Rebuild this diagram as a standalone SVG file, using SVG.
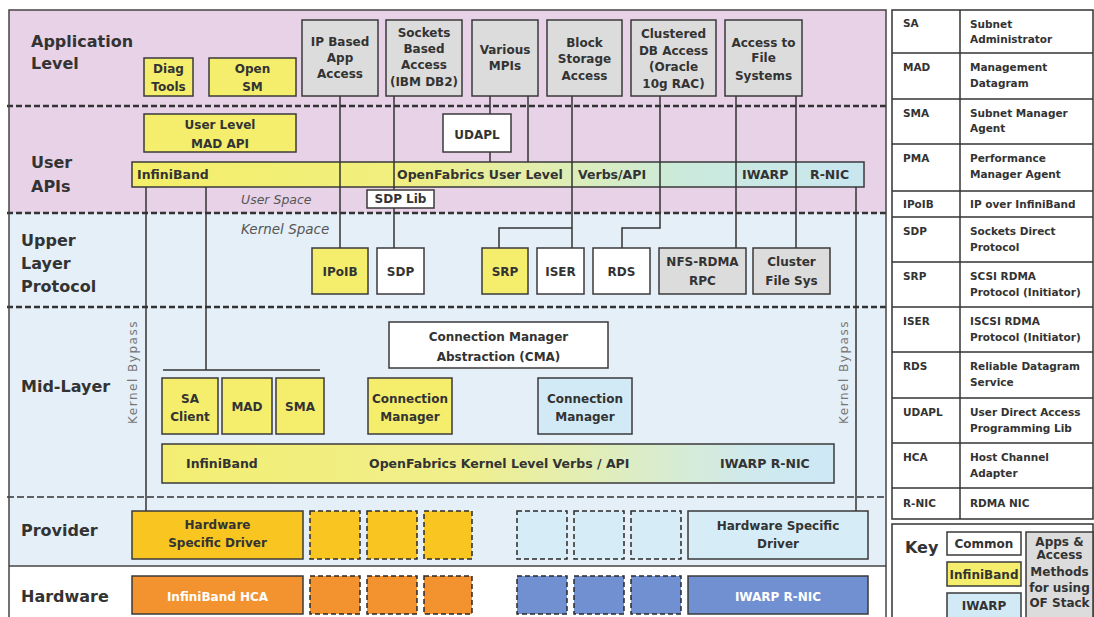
<svg xmlns="http://www.w3.org/2000/svg" width="1094" height="617" viewBox="0 0 1094 617">
<defs>
<linearGradient id="gUser" x1="0" y1="0" x2="1" y2="0">
<stop offset="0" stop-color="#f4ee68"/>
<stop offset="0.35" stop-color="#f1ef7e"/>
<stop offset="0.55" stop-color="#e2eeac"/>
<stop offset="0.75" stop-color="#cbeadb"/>
<stop offset="1" stop-color="#c9e6f0"/>
</linearGradient>
<linearGradient id="gKern" x1="0" y1="0" x2="1" y2="0">
<stop offset="0" stop-color="#f3ee72"/>
<stop offset="0.45" stop-color="#f0ef8c"/>
<stop offset="0.7" stop-color="#dcedc4"/>
<stop offset="0.88" stop-color="#cfe9ee"/>
<stop offset="1" stop-color="#cde8f4"/>
</linearGradient>
</defs>
<style>
.bx{stroke:#3a3a3a;stroke-width:1.5}
.dsh{stroke:#2a2a2a;stroke-width:1.5;stroke-dasharray:5 3}
.gray{fill:#dcdcdc}.yel{fill:#f4ee6c}.wht{fill:#fff}.blu{fill:#d2eaf6}
.gold{fill:#f9c520}.lblu{fill:#d6edf7}.org{fill:#f39330}.dblu{fill:#7090d1}
.t{font-family:"DejaVu Sans",sans-serif;font-weight:bold;fill:#333;text-anchor:middle;font-size:12px}
.tl{font-family:"DejaVu Sans",sans-serif;font-weight:bold;fill:#333;font-size:12.5px}
.lbl{font-family:"DejaVu Sans",sans-serif;font-weight:bold;font-size:16px;fill:#333}
.it{font-family:"DejaVu Sans",sans-serif;font-style:italic;fill:#555}
.kb{font-family:"DejaVu Sans",sans-serif;font-size:12px;letter-spacing:1.5px;fill:#777;text-anchor:middle}
.lg{font-family:"DejaVu Sans",sans-serif;font-weight:bold;font-size:10.5px;fill:#333}
.sep{stroke:#333;stroke-width:2.5;stroke-dasharray:6 3;fill:none}
.conn line,.conn path{stroke:#333;stroke-width:1.5;fill:none}
.wt{fill:#fff}
</style>

<!-- bands -->
<g id="bands">
<rect x="9" y="10" width="877" height="203" fill="#e8d2e8"/>
<rect x="9" y="213" width="877" height="353" fill="#e5eff8"/>
<rect x="9" y="566" width="877" height="60" fill="#ffffff"/>
<line class="sep" x1="7" y1="106" x2="886" y2="106"/>
<line class="sep" x1="7" y1="213" x2="886" y2="213"/>
<line class="sep" x1="7" y1="307" x2="886" y2="307"/>
<line x1="7" y1="497" x2="886" y2="497" stroke="#333" stroke-width="1.3" stroke-dasharray="7 3"/>
<line x1="9" y1="566" x2="886" y2="566" stroke="#444" stroke-width="1.5"/>
<rect x="9" y="10" width="877" height="620" fill="none" stroke="#444" stroke-width="1.5"/>
</g>

<g id="layer-labels">
<text class="lbl" x="31" y="47">Application</text>
<text class="lbl" x="31" y="69">Level</text>
<text class="lbl" x="31" y="168">User</text>
<text class="lbl" x="31" y="192">APIs</text>
<text class="lbl" x="21" y="246">Upper</text>
<text class="lbl" x="21" y="269">Layer</text>
<text class="lbl" x="21" y="292">Protocol</text>
<text class="lbl" x="21" y="392">Mid-Layer</text>
<text class="lbl" x="21" y="536">Provider</text>
<text class="lbl" x="21" y="602">Hardware</text>
<text class="it" x="241" y="204" font-size="12.5">User Space</text>
<text class="it" x="241" y="234" font-size="13.5">Kernel Space</text>
<text class="kb" transform="translate(137,372) rotate(-90)">Kernel Bypass</text>
<text class="kb" transform="translate(848,372) rotate(-90)">Kernel Bypass</text>
</g>

<!-- bars (under connectors) -->
<g id="user-verbs">
<rect class="bx" x="132" y="162" width="732" height="25" fill="url(#gUser)"/>
<text class="tl" x="137" y="179" font-size="13">InfiniBand</text>
<text class="tl" x="397" y="179" font-size="13">OpenFabrics User Level</text>
<text class="tl" x="578" y="179" font-size="13">Verbs/API</text>
<text class="tl" x="742" y="179" font-size="13">IWARP</text>
<text class="tl" x="810" y="179" font-size="13">R-NIC</text>
</g>

<g class="conn" id="connectors">
<line x1="340" y1="96" x2="340" y2="248"/>
<line x1="394" y1="96" x2="394" y2="190"/>
<line x1="394" y1="208" x2="394" y2="248"/>
<line x1="490" y1="96" x2="490" y2="114"/>
<line x1="490" y1="152" x2="490" y2="162"/>
<line x1="528" y1="96" x2="528" y2="162"/>
<line x1="572" y1="96" x2="572" y2="248"/>
<path d="M572 228 H499 V248"/>
<path d="M660 96 V228 H622 V248"/>
<line x1="736" y1="96" x2="736" y2="248"/>
<line x1="796" y1="96" x2="796" y2="248"/>
<line x1="146" y1="187" x2="146" y2="511"/>
<line x1="206" y1="187" x2="206" y2="370"/>
<line x1="163" y1="370" x2="320" y2="370"/>
<line x1="856" y1="187" x2="856" y2="511"/>
</g>

<g id="diag-tools"><rect class="bx yel" x="144" y="58" width="49" height="38"/><text class="t" x="168.5" y="73" font-size="13.5">Diag</text><text class="t" x="168.5" y="91" font-size="13.5">Tools</text></g>
<g id="open-sm"><rect class="bx yel" x="209" y="58" width="87" height="38"/><text class="t" x="252.5" y="73" font-size="13.5">Open</text><text class="t" x="252.5" y="91" font-size="13.5">SM</text></g>
<g id="ip-app"><rect class="bx gray" x="302" y="20" width="76" height="76"/><text class="t" x="340" y="46">IP Based</text><text class="t" x="340" y="62">App</text><text class="t" x="340" y="78">Access</text></g>
<g id="sockets"><rect class="bx gray" x="386" y="20" width="76" height="76"/><text class="t" x="424" y="37" font-size="11.5">Sockets</text><text class="t" x="424" y="53" font-size="11.5">Based</text><text class="t" x="424" y="69" font-size="11.5">Access</text><text class="t" x="424" y="86" font-size="11.5">(IBM DB2)</text></g>
<g id="mpis"><rect class="bx gray" x="472" y="20" width="66" height="76"/><text class="t" x="505" y="54">Various</text><text class="t" x="505" y="70">MPIs</text></g>
<g id="block"><rect class="bx gray" x="547" y="20" width="75" height="76"/><text class="t" x="584.5" y="47">Block</text><text class="t" x="584.5" y="63">Storage</text><text class="t" x="584.5" y="80">Access</text></g>
<g id="clustered-db"><rect class="bx gray" x="631" y="20" width="85" height="76"/><text class="t" x="673.5" y="38">Clustered</text><text class="t" x="673.5" y="55">DB Access</text><text class="t" x="673.5" y="71">(Oracle</text><text class="t" x="673.5" y="88">10g RAC)</text></g>
<g id="access-fs"><rect class="bx gray" x="725" y="20" width="77" height="76"/><text class="t" x="763.5" y="47">Access to</text><text class="t" x="763.5" y="62">File</text><text class="t" x="763.5" y="80">Systems</text></g>

<g id="mad-api"><rect class="bx yel" x="144" y="114" width="152" height="38"/><text class="t" x="220" y="129" font-size="13">User Level</text><text class="t" x="220" y="148" font-size="13">MAD API</text></g>
<g id="udapl"><rect class="bx wht" x="443" y="114" width="68" height="38"/><text class="t" x="477" y="139" font-size="13.5">UDAPL</text></g>
<g id="sdp-lib"><rect class="bx wht" x="367" y="190" width="67" height="18"/><text class="t" x="400.5" y="203" font-size="11.5">SDP Lib</text></g>

<g id="ipoib"><rect class="bx yel" x="312" y="248" width="56" height="46"/><text class="t" x="340" y="276" font-size="13.5">IPoIB</text></g>
<g id="sdp"><rect class="bx wht" x="377" y="248" width="47" height="46"/><text class="t" x="400.5" y="276" font-size="13.5">SDP</text></g>
<g id="srp"><rect class="bx yel" x="482" y="248" width="46" height="46"/><text class="t" x="505" y="276" font-size="13.5">SRP</text></g>
<g id="iser"><rect class="bx wht" x="537" y="248" width="47" height="46"/><text class="t" x="560.5" y="276" font-size="13.5">ISER</text></g>
<g id="rds"><rect class="bx wht" x="593" y="248" width="57" height="46"/><text class="t" x="621.5" y="276" font-size="13.5">RDS</text></g>
<g id="nfs-rdma"><rect class="bx gray" x="659" y="248" width="87" height="46"/><text class="t" x="702.5" y="266">NFS-RDMA</text><text class="t" x="702.5" y="285">RPC</text></g>
<g id="cluster-fs"><rect class="bx gray" x="753" y="248" width="77" height="46"/><text class="t" x="791.5" y="266">Cluster</text><text class="t" x="791.5" y="285">File Sys</text></g>

<g id="cma"><rect class="bx wht" x="389" y="322" width="219" height="46"/><text class="t" x="498.5" y="341" font-size="12.5">Connection Manager</text><text class="t" x="498.5" y="361" font-size="12.5">Abstraction (CMA)</text></g>
<g id="sa-client"><rect class="bx yel" x="162" y="378" width="56" height="56"/><text class="t" x="190" y="403" font-size="13">SA</text><text class="t" x="190" y="421" font-size="13">Client</text></g>
<g id="mad"><rect class="bx yel" x="222" y="378" width="50" height="56"/><text class="t" x="247" y="411" font-size="13">MAD</text></g>
<g id="sma"><rect class="bx yel" x="276" y="378" width="48" height="56"/><text class="t" x="300" y="411" font-size="13">SMA</text></g>
<g id="cm-ib"><rect class="bx yel" x="368" y="378" width="84" height="56"/><text class="t" x="410" y="403" font-size="12.5">Connection</text><text class="t" x="410" y="421" font-size="12.5">Manager</text></g>
<g id="cm-iwarp"><rect class="bx blu" x="538" y="378" width="94" height="56"/><text class="t" x="585" y="403" font-size="12.5">Connection</text><text class="t" x="585" y="421" font-size="12.5">Manager</text></g>
<g id="kernel-verbs"><rect class="bx" x="162" y="444" width="672" height="39" fill="url(#gKern)"/><text class="tl" x="186" y="468">InfiniBand</text><text class="tl" x="369" y="468">OpenFabrics Kernel Level Verbs / API</text><text class="tl" x="720" y="468">IWARP R-NIC</text></g>

<g id="hw-driver-ib"><rect class="bx gold" x="132" y="511" width="171" height="48"/><text class="t" x="217.5" y="529" font-size="12.5">Hardware</text><text class="t" x="217.5" y="547" font-size="12.5">Specific Driver</text></g>
<g id="prov-ib-extra"><rect class="dsh gold" x="310" y="511" width="50" height="48"/><rect class="dsh gold" x="367" y="511" width="50" height="48"/><rect class="dsh gold" x="424" y="511" width="48" height="48"/></g>
<g id="prov-iw-extra"><rect class="dsh lblu" x="517" y="511" width="50" height="48"/><rect class="dsh lblu" x="574" y="511" width="50" height="48"/><rect class="dsh lblu" x="631" y="511" width="50" height="48"/></g>
<g id="hw-driver-iw"><rect class="bx lblu" x="688" y="511" width="180" height="48"/><text class="t" x="778" y="530" font-size="13">Hardware Specific</text><text class="t" x="778" y="548" font-size="13">Driver</text></g>

<g id="ib-hca"><rect class="bx org" x="132" y="576" width="171" height="38"/><text class="t wt" x="217.5" y="601" font-size="13" style="fill:#fff">InfiniBand HCA</text></g>
<g id="hw-ib-extra"><rect class="dsh org" x="310" y="576" width="50" height="38"/><rect class="dsh org" x="367" y="576" width="50" height="38"/><rect class="dsh org" x="424" y="576" width="48" height="38"/></g>
<g id="hw-iw-extra"><rect class="dsh dblu" x="517" y="576" width="50" height="38"/><rect class="dsh dblu" x="574" y="576" width="50" height="38"/><rect class="dsh dblu" x="631" y="576" width="50" height="38"/></g>
<g id="iwarp-rnic"><rect class="bx dblu" x="688" y="576" width="180" height="38"/><text class="t" x="778" y="601" font-size="13.5" style="fill:#fff">IWARP R-NIC</text></g>

<!-- legend -->
<g id="legend">
<rect x="892" y="10" width="201" height="509" fill="#fff" stroke="#333" stroke-width="1.5"/>
<line x1="960" y1="10" x2="960" y2="519" stroke="#333" stroke-width="1.5"/>
<g stroke="#333" stroke-width="1.5">
<line x1="892" y1="53" x2="1093" y2="53"/><line x1="892" y1="99" x2="1093" y2="99"/>
<line x1="892" y1="144" x2="1093" y2="144"/><line x1="892" y1="191" x2="1093" y2="191"/>
<line x1="892" y1="217" x2="1093" y2="217"/><line x1="892" y1="262" x2="1093" y2="262"/>
<line x1="892" y1="307" x2="1093" y2="307"/><line x1="892" y1="352" x2="1093" y2="352"/>
<line x1="892" y1="398" x2="1093" y2="398"/><line x1="892" y1="443" x2="1093" y2="443"/>
<line x1="892" y1="488" x2="1093" y2="488"/>
</g>
<text class="lg" x="903" y="27">SA</text><text class="lg" x="970" y="28">Subnet</text><text class="lg" x="970" y="43">Administrator</text>
<text class="lg" x="903" y="71">MAD</text><text class="lg" x="970" y="71">Management</text><text class="lg" x="970" y="87">Datagram</text>
<text class="lg" x="903" y="117">SMA</text><text class="lg" x="970" y="117">Subnet Manager</text><text class="lg" x="970" y="132">Agent</text>
<text class="lg" x="903" y="162">PMA</text><text class="lg" x="970" y="162">Performance</text><text class="lg" x="970" y="178">Manager Agent</text>
<text class="lg" x="903" y="208">IPoIB</text><text class="lg" x="970" y="208">IP over InfiniBand</text>
<text class="lg" x="903" y="235">SDP</text><text class="lg" x="970" y="235">Sockets Direct</text><text class="lg" x="970" y="251">Protocol</text>
<text class="lg" x="903" y="280">SRP</text><text class="lg" x="970" y="280">SCSI RDMA</text><text class="lg" x="970" y="296">Protocol (Initiator)</text>
<text class="lg" x="903" y="325">ISER</text><text class="lg" x="970" y="325">ISCSI RDMA</text><text class="lg" x="970" y="341">Protocol (Initiator)</text>
<text class="lg" x="903" y="370">RDS</text><text class="lg" x="970" y="370">Reliable Datagram</text><text class="lg" x="970" y="386">Service</text>
<text class="lg" x="903" y="416">UDAPL</text><text class="lg" x="970" y="416">User Direct Access</text><text class="lg" x="970" y="432">Programming Lib</text>
<text class="lg" x="903" y="461">HCA</text><text class="lg" x="970" y="461">Host Channel</text><text class="lg" x="970" y="477">Adapter</text>
<text class="lg" x="903" y="507">R-NIC</text><text class="lg" x="970" y="507">RDMA NIC</text>
</g>

<g id="key">
<rect x="892" y="524" width="201" height="100" fill="#fff" stroke="#333" stroke-width="1.5"/>
<text class="lbl" x="905" y="553" font-size="13.5">Key</text>
<rect class="bx wht" x="947" y="532" width="74" height="23"/><text class="t" x="984" y="548" font-size="12.5">Common</text>
<rect class="bx yel" x="947" y="562" width="74" height="24"/><text class="t" x="984" y="579" font-size="12">InfiniBand</text>
<rect class="bx blu" x="947" y="593" width="74" height="30"/><text class="t" x="984" y="610" font-size="12.5">IWARP</text>
<rect class="bx gray" x="1026" y="532" width="67" height="95"/>
<text class="t" x="1059.5" y="546" font-size="9.5">Apps &amp;</text>
<text class="t" x="1059.5" y="559" font-size="9.5">Access</text>
<text class="t" x="1059.5" y="576" font-size="9.5">Methods</text>
<text class="t" x="1059.5" y="592" font-size="9.5">for using</text>
<text class="t" x="1059.5" y="607" font-size="9.5">OF Stack</text>
</g>
</svg>
